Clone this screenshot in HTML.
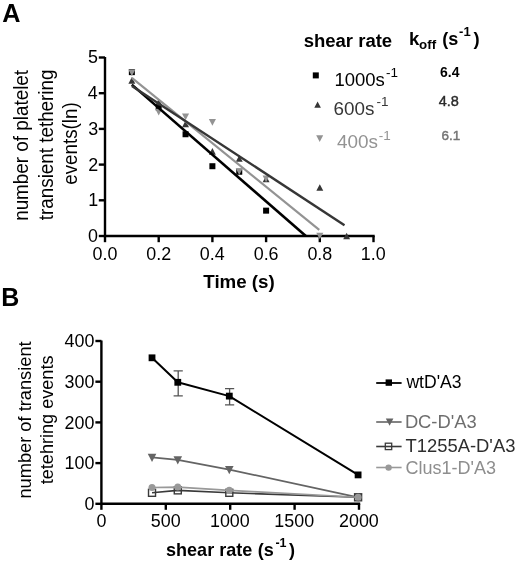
<!DOCTYPE html>
<html><head><meta charset="utf-8"><style>
html,body{margin:0;padding:0;background:#fff;}
svg{display:block;filter:blur(0.3px);}
text{font-family:"Liberation Sans", sans-serif;}
</style></head><body>
<svg width="520" height="566" viewBox="0 0 520 566">
<rect width="520" height="566" fill="#fff"/>
<path d="M105.0 56.9 V236.0 H374.7" fill="none" stroke="#000" stroke-width="2.4"/>
<line x1="98.8" y1="236.00" x2="105.0" y2="236.00" stroke="#000" stroke-width="2.4"/>
<text x="88.04" y="241.90" font-size="17.90" fill="#000">0</text>
<line x1="98.8" y1="200.30" x2="105.0" y2="200.30" stroke="#000" stroke-width="2.4"/>
<text x="88.22" y="206.20" font-size="17.90" fill="#000">1</text>
<line x1="98.8" y1="164.60" x2="105.0" y2="164.60" stroke="#000" stroke-width="2.4"/>
<text x="88.25" y="170.50" font-size="17.90" fill="#000">2</text>
<line x1="98.8" y1="128.90" x2="105.0" y2="128.90" stroke="#000" stroke-width="2.4"/>
<text x="88.13" y="134.80" font-size="17.90" fill="#000">3</text>
<line x1="98.8" y1="93.20" x2="105.0" y2="93.20" stroke="#000" stroke-width="2.4"/>
<text x="87.87" y="99.10" font-size="17.90" fill="#000">4</text>
<line x1="98.8" y1="57.50" x2="105.0" y2="57.50" stroke="#000" stroke-width="2.4"/>
<text x="88.10" y="63.40" font-size="17.90" fill="#000">5</text>
<line x1="105.00" y1="236.0" x2="105.00" y2="242.2" stroke="#000" stroke-width="2.4"/>
<text x="92.56" y="260.30" font-size="17.90" fill="#000">0.0</text>
<line x1="158.70" y1="236.0" x2="158.70" y2="242.2" stroke="#000" stroke-width="2.4"/>
<text x="146.36" y="260.30" font-size="17.90" fill="#000">0.2</text>
<line x1="212.40" y1="236.0" x2="212.40" y2="242.2" stroke="#000" stroke-width="2.4"/>
<text x="199.87" y="260.30" font-size="17.90" fill="#000">0.4</text>
<line x1="266.10" y1="236.0" x2="266.10" y2="242.2" stroke="#000" stroke-width="2.4"/>
<text x="253.70" y="260.30" font-size="17.90" fill="#000">0.6</text>
<line x1="319.80" y1="236.0" x2="319.80" y2="242.2" stroke="#000" stroke-width="2.4"/>
<text x="307.40" y="260.30" font-size="17.90" fill="#000">0.8</text>
<line x1="373.50" y1="236.0" x2="373.50" y2="242.2" stroke="#000" stroke-width="2.4"/>
<text x="360.73" y="260.30" font-size="17.90" fill="#000">1.0</text>
<text x="203.29" y="288.00" font-size="18.74" font-weight="bold" fill="#000">Time (s)</text>
<text transform="translate(28.10,220.85) scale(1.05,1) rotate(-90)" font-size="18.86" fill="#000">number of platelet</text>
<text transform="translate(52.60,220.19) scale(1.05,1) rotate(-90)" font-size="18.84" fill="#000">transient tethering</text>
<text transform="translate(77.20,184.80) scale(1.05,1) rotate(-90)" font-size="18.80" fill="#000">events(ln)</text>
<text x="2.17" y="21.60" font-size="25.19" font-weight="bold" fill="#000">A</text>
<rect x="128.85" y="69.14" width="6.0" height="6.0" fill="#000"/>
<rect x="155.70" y="104.48" width="6.0" height="6.0" fill="#000"/>
<rect x="182.55" y="131.25" width="6.0" height="6.0" fill="#000"/>
<rect x="209.40" y="163.21" width="6.0" height="6.0" fill="#000"/>
<rect x="236.25" y="168.74" width="6.0" height="6.0" fill="#000"/>
<rect x="263.10" y="207.65" width="6.0" height="6.0" fill="#000"/>
<path d="M128.40 83.63 H135.30 L131.85 77.07Z" fill="#363636"/>
<path d="M155.25 105.40 H162.15 L158.70 98.85Z" fill="#363636"/>
<path d="M182.10 127.18 H189.00 L185.55 120.62Z" fill="#363636"/>
<path d="M208.95 154.67 H215.85 L212.40 148.11Z" fill="#363636"/>
<path d="M235.80 161.81 H242.70 L239.25 155.25Z" fill="#363636"/>
<path d="M262.65 182.16 H269.55 L266.10 175.60Z" fill="#363636"/>
<path d="M316.35 190.73 H323.25 L319.80 184.17Z" fill="#363636"/>
<path d="M343.20 239.28 H350.10 L346.65 232.72Z" fill="#363636"/>
<path d="M128.30 69.48 H135.40 L131.85 76.22Z" fill="#939393"/>
<path d="M155.15 108.75 H162.25 L158.70 115.49Z" fill="#939393"/>
<path d="M182.00 113.39 H189.10 L185.55 120.13Z" fill="#939393"/>
<path d="M208.85 119.10 H215.95 L212.40 125.85Z" fill="#939393"/>
<path d="M235.70 168.37 H242.80 L239.25 175.11Z" fill="#939393"/>
<path d="M262.55 175.51 H269.65 L266.10 182.25Z" fill="#939393"/>
<path d="M316.25 232.63 H323.35 L319.80 239.37Z" fill="#939393"/>
<line x1="131.85" y1="84.63" x2="305.84" y2="236.00" stroke="#000" stroke-width="2.6"/>
<line x1="131.85" y1="77.85" x2="319.26" y2="229.93" stroke="#939393" stroke-width="2.2"/>
<line x1="131.85" y1="85.88" x2="344.50" y2="225.29" stroke="#363636" stroke-width="2.4"/>
<text x="303.65" y="46.60" font-size="18.53" font-weight="bold" fill="#000">shear rate</text>
<text x="408.91" y="44.50" font-size="18.50" font-weight="bold" fill="#000">k</text>
<text x="419.08" y="48.80" font-size="13.31" font-weight="bold" fill="#000">off</text>
<text x="442.20" y="44.60" font-size="18.04" font-weight="bold" fill="#000">(s</text>
<text x="459.09" y="36.10" font-size="13.00" font-weight="bold" fill="#000">-1</text>
<text x="473.38" y="44.60" font-size="18.50" font-weight="bold" fill="#000">)</text>
<rect x="312.80" y="72.40" width="6" height="6" fill="#000"/>
<path d="M314.30 107.73 H320.90 L317.60 101.46Z" fill="#363636"/>
<path d="M316.20 135.28 H323.20 L319.70 141.92Z" fill="#939393"/>
<text x="334.39" y="85.60" font-size="18.49" fill="#000">1000s</text>
<text x="386.00" y="77.30" font-size="13.50" fill="#000">-1</text>
<text x="333.54" y="115.00" font-size="18.88" fill="#363636">600s</text>
<text x="376.60" y="106.10" font-size="13.50" fill="#363636">-1</text>
<text x="336.97" y="147.80" font-size="18.92" fill="#939393">400s</text>
<text x="378.80" y="140.30" font-size="13.50" fill="#939393">-1</text>
<text x="440.09" y="77.40" font-size="13.95" font-weight="bold" fill="#000">6.4</text>
<text x="438.77" y="105.80" font-size="14.50" fill="#2c2c2c" stroke="#2c2c2c" stroke-width="0.4">4.8</text>
<text x="441.62" y="140.30" font-size="13.48" fill="#747474" stroke="#747474" stroke-width="0.45">6.1</text>
<path d="M101.4 340.4 V503.8 H360.2" fill="none" stroke="#000" stroke-width="2.4"/>
<line x1="95.4" y1="503.80" x2="101.4" y2="503.80" stroke="#000" stroke-width="2.4"/>
<text x="84.44" y="510.00" font-size="17.90" fill="#000">0</text>
<line x1="95.4" y1="463.10" x2="101.4" y2="463.10" stroke="#000" stroke-width="2.4"/>
<text x="64.53" y="469.30" font-size="17.90" fill="#000">100</text>
<line x1="95.4" y1="422.40" x2="101.4" y2="422.40" stroke="#000" stroke-width="2.4"/>
<text x="64.53" y="428.60" font-size="17.90" fill="#000">200</text>
<line x1="95.4" y1="381.70" x2="101.4" y2="381.70" stroke="#000" stroke-width="2.4"/>
<text x="64.53" y="387.90" font-size="17.90" fill="#000">300</text>
<line x1="95.4" y1="341.00" x2="101.4" y2="341.00" stroke="#000" stroke-width="2.4"/>
<text x="64.53" y="347.20" font-size="17.90" fill="#000">400</text>
<line x1="101.40" y1="503.8" x2="101.40" y2="509.8" stroke="#000" stroke-width="2.4"/>
<text x="96.42" y="526.80" font-size="17.90" fill="#000">0</text>
<line x1="165.80" y1="503.8" x2="165.80" y2="509.8" stroke="#000" stroke-width="2.4"/>
<text x="150.86" y="526.80" font-size="17.90" fill="#000">500</text>
<line x1="230.20" y1="503.8" x2="230.20" y2="509.8" stroke="#000" stroke-width="2.4"/>
<text x="209.96" y="526.80" font-size="17.90" fill="#000">1000</text>
<line x1="294.60" y1="503.8" x2="294.60" y2="509.8" stroke="#000" stroke-width="2.4"/>
<text x="274.36" y="526.80" font-size="17.90" fill="#000">1500</text>
<line x1="359.00" y1="503.8" x2="359.00" y2="509.8" stroke="#000" stroke-width="2.4"/>
<text x="338.99" y="526.80" font-size="17.90" fill="#000">2000</text>
<text x="1.33" y="306.10" font-size="25.00" font-weight="bold" fill="#000">B</text>
<text transform="translate(30.50,498.61) scale(1.05,1) rotate(-90)" font-size="18.27" fill="#000">number of transient</text>
<text transform="translate(53.00,484.27) scale(1.05,1) rotate(-90)" font-size="18.10" fill="#000">tetehring events</text>
<text x="166.07" y="555.60" font-size="18.02" font-weight="bold" fill="#000">shear rate</text>
<text x="257.80" y="555.60" font-size="18.02" font-weight="bold" fill="#000">(s</text>
<text x="275.41" y="547.10" font-size="12.50" font-weight="bold" fill="#000">-1</text>
<text x="289.08" y="555.60" font-size="18.02" font-weight="bold" fill="#000">)</text>
<path d="M178.20 370.90 V395.80 M173.60 370.90 H182.80 M173.60 395.80 H182.80" stroke="#555" stroke-width="1.3" fill="none"/>
<path d="M229.60 388.70 V404.80 M225.00 388.70 H234.20 M225.00 404.80 H234.20" stroke="#555" stroke-width="1.3" fill="none"/>
<polyline points="152.02,457.40 177.78,459.84 229.30,469.61 358.10,497.29" fill="none" stroke="#646464" stroke-width="1.8" stroke-linejoin="round"/>
<path d="M147.72 453.82 H156.32 L152.02 461.99Z" fill="#646464"/>
<path d="M173.48 456.26 H182.08 L177.78 464.43Z" fill="#646464"/>
<path d="M225.00 466.03 H233.60 L229.30 474.20Z" fill="#646464"/>
<path d="M353.80 493.70 H362.40 L358.10 501.87Z" fill="#646464"/>
<polyline points="152.02,492.81 177.78,490.37 229.30,492.81 358.10,497.29" fill="none" stroke="#3a3a3a" stroke-width="1.6" stroke-linejoin="round"/>
<rect x="148.52" y="489.31" width="7.0" height="7.0" fill="none" stroke="#3a3a3a" stroke-width="1.4"/>
<rect x="174.28" y="486.87" width="7.0" height="7.0" fill="none" stroke="#3a3a3a" stroke-width="1.4"/>
<rect x="225.80" y="489.31" width="7.0" height="7.0" fill="none" stroke="#3a3a3a" stroke-width="1.4"/>
<rect x="354.60" y="493.79" width="7.0" height="7.0" fill="none" stroke="#3a3a3a" stroke-width="1.4"/>
<polyline points="152.02,487.52 177.78,487.11 229.30,490.37 358.10,497.29" fill="none" stroke="#999999" stroke-width="1.6" stroke-linejoin="round"/>
<circle cx="152.02" cy="487.52" r="3.5" fill="#999999"/>
<circle cx="177.78" cy="487.11" r="3.5" fill="#999999"/>
<circle cx="229.30" cy="490.37" r="3.5" fill="#999999"/>
<circle cx="358.10" cy="497.29" r="3.5" fill="#999999"/>
<polyline points="152.02,357.81 177.78,382.31 229.30,396.11 358.10,474.90" fill="none" stroke="#000" stroke-width="2.0" stroke-linejoin="round"/>
<rect x="148.62" y="354.41" width="6.8" height="6.8" fill="#000"/>
<rect x="174.38" y="378.91" width="6.8" height="6.8" fill="#000"/>
<rect x="225.90" y="392.71" width="6.8" height="6.8" fill="#000"/>
<rect x="354.70" y="471.50" width="6.8" height="6.8" fill="#000"/>
<line x1="376.2" y1="383" x2="401.6" y2="383" stroke="#000" stroke-width="1.8"/>
<rect x="385.60" y="379.40" width="6.4" height="6.4" fill="#000"/>
<text x="406.43" y="388.40" font-size="17.58" fill="#000">wtD&#39;A3</text>
<line x1="376.2" y1="422" x2="401.6" y2="422" stroke="#646464" stroke-width="1.6"/>
<path d="M385.80 418.59 H393.40 L389.60 425.81Z" fill="#646464"/>
<text x="404.89" y="428.30" font-size="18.35" fill="#6e6e6e">DC-D&#39;A3</text>
<line x1="376.2" y1="446.5" x2="401.6" y2="446.5" stroke="#3a3a3a" stroke-width="1.6"/>
<rect x="385.3" y="443.2" width="6.4" height="6.4" fill="none" stroke="#3a3a3a" stroke-width="1.3"/>
<text x="405.49" y="451.90" font-size="18.41" fill="#2e2e2e">T1255A-D&#39;A3</text>
<line x1="376.2" y1="467.5" x2="401.6" y2="467.5" stroke="#999999" stroke-width="1.6"/>
<circle cx="388.6" cy="467.6" r="3.2" fill="#999999"/>
<text x="405.49" y="473.60" font-size="18.01" fill="#8e8e8e">Clus1-D&#39;A3</text>
</svg>
</body></html>
